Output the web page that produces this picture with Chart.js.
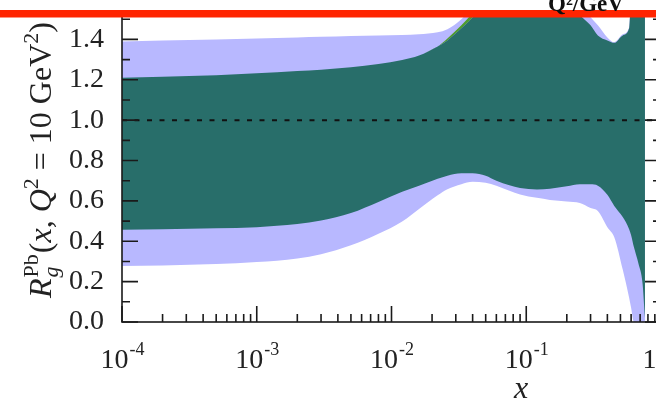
<!DOCTYPE html>
<html><head><meta charset="utf-8">
<script src="https://cdn.jsdelivr.net/npm/chart.js@4"></script>
<style>
html,body{margin:0;padding:0;overflow:hidden;background:#fff;width:656px;height:405px}
#wrap{position:absolute;left:0;top:0;width:720px;height:405px}
canvas{display:block}
</style></head><body>
<div id="wrap"><canvas id="c" width="720" height="405"></canvas></div>
<script>
// ---- data ----
const xValues    = [1e-4, 2e-4, 5e-4, 1e-3, 2e-3, 3e-3, 5e-3, 8e-3, 1.2e-2, 1.6e-2, 2.2e-2, 2.6e-2, 3.3e-2, 4e-2, 5e-2, 6e-2, 7.5e-2, 9e-2, 0.12, 0.15, 0.2, 0.25, 0.3, 0.34, 0.4, 0.45, 0.52, 0.58, 0.6, 0.63, 0.68, 0.73, 0.76];
const outerUpper = [1.39,1.395,1.40,1.405,1.41,1.413,1.417,1.42,1.422,1.425,1.435,1.45,1.50,1.56,1.6,1.6,1.6,1.6,1.6,1.6,1.6,1.58,1.51,1.47,1.41,1.386,1.425,1.46,1.6,1.6,1.6,1.6,1.6];
const outerLower = [0.278,0.28,0.287,0.297,0.315,0.336,0.38,0.437,0.498,0.56,0.628,0.658,0.683,0.695,0.69,0.675,0.65,0.632,0.615,0.605,0.597,0.59,0.565,0.55,0.47,0.42,0.26,0.12,0.07,0.0,0.0,0.0,0.0];
const greenUpper = [1.21,1.215,1.222,1.232,1.243,1.25,1.262,1.278,1.298,1.32,1.365,1.405,1.47,1.53,1.6,1.6,1.6,1.6,1.6,1.6,1.6,1.52,1.47,1.42,1.395,1.383,1.42,1.455,1.6,1.6,1.6,1.6,1.6];
const innerUpper = [1.21,1.215,1.222,1.232,1.243,1.25,1.262,1.278,1.298,1.32,1.365,1.395,1.455,1.51,1.6,1.6,1.6,1.6,1.6,1.6,1.6,1.52,1.47,1.42,1.395,1.383,1.42,1.455,1.6,1.6,1.6,1.6,1.6];
const innerLower = [0.457,0.46,0.465,0.47,0.485,0.503,0.54,0.595,0.645,0.675,0.71,0.725,0.737,0.737,0.725,0.70,0.677,0.664,0.657,0.66,0.672,0.683,0.682,0.675,0.63,0.575,0.52,0.46,0.43,0.37,0.29,0.19,0.02];
const unityX = [1e-4, 1];
const unityY = [1, 1];
const yTickValues = [0.0, 0.2, 0.4, 0.6, 0.8, 1.0, 1.2, 1.4];
const xTickExponents = [-4, -3, -2, -1, 0];

const C_OUTER = '#b8b8ff', C_INNER = '#286e6a', C_GREEN = '#4e9c2c';
const pts = arr => xValues.map((x, i) => ({x, y: arr[i]}));
const none = 'rgba(0,0,0,0)';
const base = {pointRadius: 0, borderWidth: 0, borderColor: none, cubicInterpolationMode: 'monotone', clip: 0};

const decor = {
  id: 'decor',
  afterDraw(chart) {
    const ctx = chart.ctx, a = chart.chartArea;
    const xs = chart.scales.x, ys = chart.scales.y;
    ctx.save();
    ctx.strokeStyle = '#1a1a1a'; ctx.lineWidth = 1.6;
    ctx.strokeRect(a.left, a.top, a.right - a.left, a.bottom - a.top);
    for (let k = 0; k <= 15; k++) {
      const py = ys.getPixelForValue(k / 10);
      const L = (k % 2 === 0) ? 16 : 8;
      ctx.beginPath();
      ctx.moveTo(a.left, py); ctx.lineTo(a.left + L, py);
      ctx.moveTo(a.right, py); ctx.lineTo(a.right - L, py);
      ctx.stroke();
    }
    for (const e of xTickExponents) {
      for (let m = 1; m <= 9; m++) {
        const v = m * Math.pow(10, e);
        if (v > xs.max * 1.0001) continue;
        const px = xs.getPixelForValue(v);
        const L = m === 1 ? 16 : 8;
        ctx.beginPath(); ctx.moveTo(px, a.bottom); ctx.lineTo(px, a.bottom - L); ctx.stroke();
      }
    }
    ctx.fillStyle = '#222'; ctx.textBaseline = 'alphabetic'; ctx.textAlign = 'left';
    for (const e of xTickExponents) {
      const px = xs.getPixelForValue(Math.pow(10, e));
      ctx.font = '28px "Liberation Serif"';
      const w1 = ctx.measureText('10').width;
      ctx.font = '18px "Liberation Serif"';
      const sup = String(e);
      const w2 = ctx.measureText(sup).width;
      const x0 = px - (w1 + w2) / 2;
      ctx.font = '28px "Liberation Serif"';
      ctx.fillText('10', x0, 368);
      ctx.font = '18px "Liberation Serif"';
      ctx.fillText(sup, x0 + w1 + 1, 355);
    }
    ctx.font = 'italic 32px "Liberation Serif"';
    ctx.textAlign = 'center';
    ctx.fillText('x', 521, 398);
    const F = '32px "Liberation Serif"', FI = 'italic 32px "Liberation Serif"';
    const S = '22px "Liberation Serif"', SI = 'italic 22px "Liberation Serif"';
    const runs = [
      {t: 'R', f: FI, dy: 0},
      {stack: [{t: 'Pb', f: S, dy: 13}, {t: 'g', f: SI, dy: -7}]},
      {t: '(', f: F, dy: 0},
      {t: 'x', f: FI, dy: 0},
      {t: ', ', f: F, dy: 0},
      {t: 'Q', f: FI, dy: 0},
      {t: '2', f: S, dy: 13},
      {t: ' = 10 ', f: F, dy: 0},
      {t: 'GeV', f: F, dy: 0},
      {t: '2', f: S, dy: 13},
      {t: ')', f: F, dy: 0}
    ];
    ctx.textAlign = 'left';
    const widthOf = r => {
      if (r.stack) return Math.max(...r.stack.map(s => { ctx.font = s.f; return ctx.measureText(s.t).width; })) + 2;
      ctx.font = r.f; return ctx.measureText(r.t).width;
    };
    const total = runs.reduce((s, r) => s + widthOf(r), 0);
    ctx.save();
    ctx.translate(51, 160);
    ctx.rotate(-Math.PI / 2);
    let cx = -total / 2;
    for (const r of runs) {
      const w = widthOf(r);
      const items = r.stack ? r.stack : [r];
      for (const s of items) { ctx.font = s.f; ctx.fillText(s.t, cx + (r.stack ? 1 : 0), -s.dy); }
      cx += w;
    }
    ctx.restore();
    ctx.fillStyle = '#ff2400';
    ctx.fillRect(0, 10, chart.width, 7.5);
    ctx.fillStyle = '#111';
    ctx.font = 'bold 23px "Liberation Serif"';
    ctx.fillText('Q\u00b2/GeV', 548, 11);
    ctx.restore();
  }
};

new Chart(document.getElementById('c'), {
  type: 'line',
  data: {
    datasets: [
      {...base, data: pts(outerUpper), fill: false, order: 3},
      {...base, data: pts(outerLower), fill: 0, backgroundColor: C_OUTER, order: 3},
      {...base, data: pts(greenUpper), fill: false, order: 2},
      {...base, data: pts(innerUpper), fill: 2, backgroundColor: C_GREEN, order: 2},
      {...base, data: pts(innerUpper), fill: false, order: 1},
      {...base, data: pts(innerLower), fill: 4, backgroundColor: C_INNER, order: 1},
      {pointRadius: 0, clip: 0, data: unityX.map((x, i) => ({x, y: unityY[i]})), borderColor: '#111', borderWidth: 2, borderDash: [5, 7.5], fill: false, order: 0}
    ]
  },
  options: {
    responsive: false, animation: false, devicePixelRatio: 1,
    layout: {padding: {top: 16, right: 59, left: 0, bottom: 0}},
    plugins: {legend: {display: false}, tooltip: {enabled: false}},
    scales: {
      x: {
        type: 'logarithmic', min: 1e-4, max: 1,
        grid: {display: false, drawTicks: false}, border: {display: false},
        ticks: {display: false},
        afterFit: s => { s.height = 83; s.paddingLeft = 0; s.paddingRight = 0; }
      },
      y: {
        type: 'linear', min: 0, max: 1.516,
        grid: {display: false, drawTicks: false}, border: {display: false},
        afterBuildTicks: s => { s.ticks = yTickValues.map(v => ({value: v})); },
        ticks: {
          padding: 18, color: '#222',
          font: {family: '"Liberation Serif"', size: 28},
          callback: v => Number(v).toFixed(1)
        },
        afterFit: s => { s.width = 122; s.paddingTop = 0; s.paddingBottom = 0; }
      }
    }
  },
  plugins: [decor]
});
</script>
</body></html>
